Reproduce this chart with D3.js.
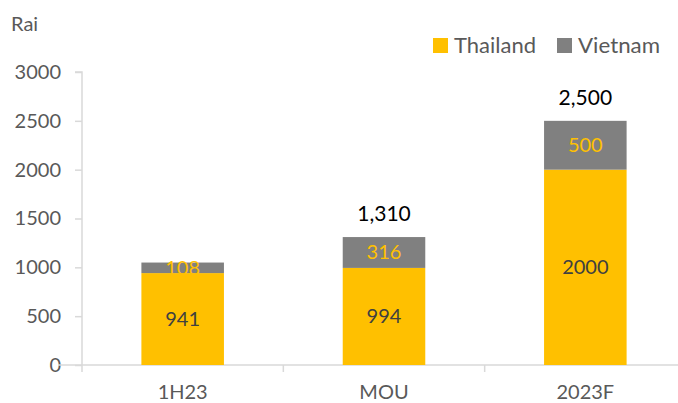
<!DOCTYPE html>
<html><head><meta charset="utf-8">
<script src="https://cdn.jsdelivr.net/npm/d3@7"></script>
<style>body{margin:0;background:#fff}svg{display:block}text{font-family:Lato,"Open Sans",sans-serif}</style>
</head><body><svg id="c" width="678" height="403"></svg>
<script>
const categories = ["1H23", "MOU", "2023F"];
const thailand = [941, 994, 2000];
const vietnam = [108, 316, 500];
const totalLabels = ["", "1,310", "2,500"];
const yTicks = [0, 500, 1000, 1500, 2000, 2500, 3000];
const seriesNames = ["Thailand", "Vietnam"];
const colors = ["#FFC000", "#808080"];

const svg = d3.select("#c");
const x0 = 82, x1 = 686, yTop = 72, yBot = 365;
const x = d3.scaleBand().domain(categories).range([x0, x1]).paddingInner(0.59).paddingOuter(0.295);
const y = d3.scaleLinear().domain([0, 3000]).range([yBot, yTop]);
const fs = 20;

// y axis
const ya = svg.append("g").attr("transform", `translate(${x0},0)`)
  .call(d3.axisLeft(y).tickValues(yTicks).tickSize(7).tickPadding(14).tickFormat(d3.format("d")));
ya.select(".domain").attr("stroke", "#d9d9d9").attr("stroke-width", 1.5).attr("d", `M-7,${yTop}H0V${yBot}`);
ya.selectAll(".tick line").attr("stroke", "#d9d9d9").attr("stroke-width", 1.5);
ya.selectAll(".tick text").attr("fill", "#595959").style("font-size", fs + "px");

// x axis
const bandStep = x.step();
const xa = svg.append("g").attr("transform", `translate(0,${yBot})`)
  .call(d3.axisBottom(x).tickSize(0).tickPadding(20));
xa.select(".domain").attr("stroke", "#d9d9d9").attr("stroke-width", 1.5).attr("d", `M${x0 - 24},0H${x1}`);
xa.selectAll(".tick text").attr("fill", "#595959").style("font-size", fs + "px");
svg.append("g").selectAll("line").data(d3.range(categories.length + 1)).join("line")
  .attr("x1", i => x0 + i * bandStep).attr("x2", i => x0 + i * bandStep)
  .attr("y1", yBot).attr("y2", yBot + 7).attr("stroke", "#d9d9d9").attr("stroke-width", 1.5);

// bars
const g = svg.append("g");
g.selectAll(".th").data(categories).join("rect").attr("class", "th")
  .attr("x", d => x(d)).attr("width", x.bandwidth())
  .attr("y", (d, i) => y(thailand[i])).attr("height", (d, i) => y(0) - y(thailand[i]))
  .attr("fill", colors[0]);
g.selectAll(".vn").data(categories).join("rect").attr("class", "vn")
  .attr("x", d => x(d)).attr("width", x.bandwidth())
  .attr("y", (d, i) => y(thailand[i] + vietnam[i])).attr("height", (d, i) => y(thailand[i]) - y(thailand[i] + vietnam[i]))
  .attr("fill", colors[1]);

// labels
g.selectAll(".tl").data(categories).join("text")
  .attr("x", d => x(d) + x.bandwidth() / 2).attr("y", (d, i) => y(thailand[i] / 2))
  .attr("dy", "0.35em").attr("text-anchor", "middle").attr("fill", "#404040")
  .style("font-size", fs + "px").text((d, i) => thailand[i]);
g.selectAll(".vl").data(categories).join("text")
  .attr("x", d => x(d) + x.bandwidth() / 2).attr("y", (d, i) => y(thailand[i] + vietnam[i] / 2))
  .attr("dy", "0.35em").attr("text-anchor", "middle").attr("fill", "#FFC000")
  .style("font-size", fs + "px").text((d, i) => vietnam[i]);
g.selectAll(".tot").data(categories).join("text")
  .attr("x", d => x(d) + x.bandwidth() / 2).attr("y", (d, i) => y(thailand[i] + vietnam[i]) - 16)
  .attr("text-anchor", "middle").attr("fill", "#000")
  .style("font-size", (fs + 1) + "px").text((d, i) => totalLabels[i]);

// axis title
svg.append("text").attr("x", 11).attr("y", 31).attr("fill", "#595959").style("font-size", fs + "px").text("Rai");

// legend
const leg = svg.append("g");
const legX = [433, 557];
seriesNames.forEach((s, i) => {
  leg.append("rect").attr("x", legX[i]).attr("y", 38).attr("width", 15).attr("height", 15).attr("fill", colors[i]);
  leg.append("text").attr("x", legX[i] + 21).attr("y", 45.5).attr("dy", "0.35em").attr("fill", "#595959")
    .attr("textLength", 82).attr("lengthAdjust", "spacingAndGlyphs")
    .style("font-size", "21px").text(s);
});
</script></body></html>
